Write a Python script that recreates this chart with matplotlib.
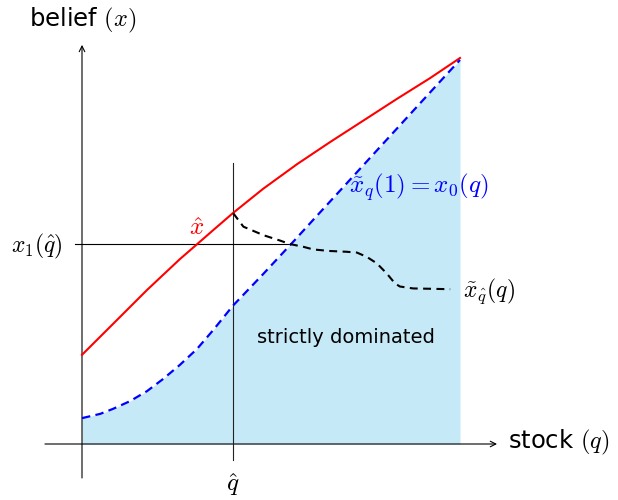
import matplotlib
matplotlib.use('Agg')
import numpy as np
from matplotlib import pyplot as plt

plt.rcParams['mathtext.fontset'] = 'cm'
plt.rcParams['font.family'] = ['DejaVu Sans']

# stock q and belief x, both scaled to [0, 1]
q_red = [0.0, 0.082, 0.172, 0.259, 0.299, 0.347, 0.399, 0.479, 0.569, 0.656, 0.743, 0.833, 0.921, 1.0]
x_red = [0.231, 0.311, 0.399, 0.479, 0.513, 0.554, 0.598, 0.661, 0.725, 0.782, 0.837, 0.894, 0.948, 1.0]

q_blue = [0.0, 0.048, 0.082, 0.127, 0.172, 0.214, 0.259, 0.304, 0.347, 0.399, 0.479,
          0.556, 0.611, 0.701, 0.788, 0.876, 0.966, 1.0]
x_blue = [0.067, 0.078, 0.091, 0.111, 0.137, 0.168, 0.205, 0.246, 0.295, 0.358, 0.440,
          0.521, 0.580, 0.676, 0.769, 0.863, 0.959, 0.995]

q_black = [0.400, 0.427, 0.480, 0.524, 0.550, 0.585, 0.612, 0.656, 0.700, 0.727, 0.753,
           0.780, 0.806, 0.828, 0.841, 0.876, 0.929, 0.974]
x_black = [0.598, 0.563, 0.541, 0.527, 0.518, 0.511, 0.504, 0.500, 0.498, 0.496, 0.485,
           0.468, 0.442, 0.416, 0.408, 0.403, 0.402, 0.401]

q_hat = 0.399
x1_qhat = 0.518

fig = plt.figure(figsize=(6.18, 5), dpi=100)
ax = fig.add_axes([0, 0, 1, 1])
ax.set_xlim(-82/378, 536/378)
ax.set_ylim(-56/386, 444/386)
ax.axis('off')

# dominated region under the blue curve
ax.fill_between(q_blue, 0, x_blue, color='#c6e9f8', lw=0, zorder=1)

# axes with arrows
ax.annotate('', xy=(1.098, 0), xytext=(-0.098, 0),
            arrowprops=dict(arrowstyle='->', color='black', lw=0.8, shrinkA=0, shrinkB=0), zorder=2)
ax.annotate('', xy=(0, 1.034), xytext=(0, -0.088),
            arrowprops=dict(arrowstyle='->', color='black', lw=0.8, shrinkA=0, shrinkB=0), zorder=2)

# q-hat guide lines
ax.plot([q_hat, q_hat], [-0.041, 0.728], color='#222222', lw=0.8, zorder=2)
ax.plot([-0.018, 0.55], [x1_qhat, x1_qhat], color='black', lw=0.8, zorder=2)

ax.plot(q_red, x_red, color='red', lw=1.5, zorder=3)
ax.plot(q_blue, x_blue, color='blue', lw=1.6, ls=(0, (3.8, 2.4)), zorder=3)
ax.plot(q_black, x_black, color='black', lw=1.5, ls=(0, (3.8, 2.6)), zorder=3)

ax.text(0.003, 1.098, r'belief $(x)$', fontsize=17.5, ha='center', va='center')
ax.text(1.127, 0.005, r'stock $(q)$', fontsize=17.5, ha='left', va='center')
ax.text(-0.05, 0.513, r'$x_1(\hat{q})$', fontsize=17, ha='right', va='center')
ax.text(q_hat, -0.106, r'$\hat{q}$', fontsize=18, ha='center', va='center')
ax.text(0.302, 0.56, r'$\hat{x}$', fontsize=18, color='red', ha='center', va='center')
ax.text(0.706, 0.666, r'$\tilde{x}_q(1) = x_0(q)$', fontsize=18, color='blue', ha='left', va='center')
ax.text(1.008, 0.396, r'$\tilde{x}_{\hat{q}}(q)$', fontsize=17, ha='left', va='center')
ax.text(0.698, 0.275, 'strictly dominated', fontsize=14, ha='center', va='center')

fig.savefig('out.png', dpi=100)
